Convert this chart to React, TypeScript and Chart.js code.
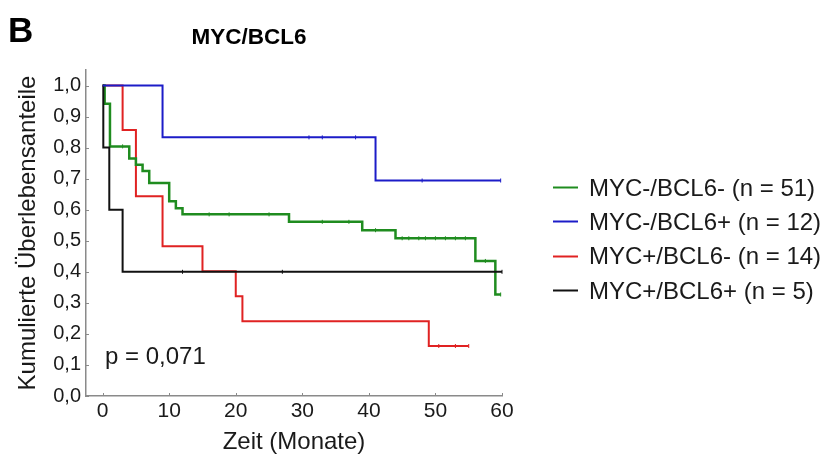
import React, { useEffect, useRef } from 'react';
import { Chart, registerables } from 'chart.js';

Chart.register(...registerables);

// ---- data ----
const X_TICKS = [0, 10, 20, 30, 40, 50, 60];
const Y_TICKS = [0, 0.1, 0.2, 0.3, 0.4, 0.5, 0.6, 0.7, 0.8, 0.9, 1.0];

const PANEL_LABEL = 'B';
const TITLE = 'MYC/BCL6';
const X_TITLE = 'Zeit (Monate)';
const Y_TITLE = 'Kumulierte Überlebensanteile';
const P_TEXT = 'p = 0,071';

const SERIES_LABELS = [
  'MYC-/BCL6- (n = 51)',
  'MYC-/BCL6+ (n = 12)',
  'MYC+/BCL6- (n = 14)',
  'MYC+/BCL6+ (n = 5)',
];
const SERIES_COLORS = ['#1f8c1f', '#1c1cc8', '#e02222', '#111111'];

// MYC-/BCL6-
const GREEN_T = [0, 0.3, 1.1, 4, 5, 6, 7, 10, 11, 12, 28, 39, 44, 56, 59, 59.8];
const GREEN_S = [1, 0.941, 0.804, 0.765, 0.745, 0.725, 0.686, 0.627, 0.605, 0.585, 0.561, 0.534, 0.508, 0.435, 0.327, 0.327];
const GREEN_CENSOR = [3, 16, 19, 25, 33, 37, 41, 45, 46, 47.5, 48.5, 50, 51.5, 53, 54.5, 57.5, 59.8];

// MYC-/BCL6+
const BLUE_T = [0, 9, 41, 59.8];
const BLUE_S = [1, 0.833, 0.694, 0.694];
const BLUE_CENSOR = [31, 33, 38, 48, 59.8];

// MYC+/BCL6-
const RED_T = [0, 3, 5, 9, 15, 20, 21, 49, 55];
const RED_S = [1, 0.857, 0.643, 0.482, 0.402, 0.321, 0.241, 0.161, 0.161];
const RED_CENSOR = [50.5, 53, 55];

// MYC+/BCL6+
const BLACK_T = [0, 0.1, 1, 3, 60];
const BLACK_S = [1, 0.8, 0.6, 0.4, 0.4];
const BLACK_CENSOR = [12, 27, 60];

const FONT = '"Liberation Sans", Arial, Helvetica, sans-serif';
const AXIS_COLOR = '#8a8a8a';
const TEXT_COLOR = '#1a1a1a';

type Pt = { x: number; y: number; c: boolean };

function buildSeries(times: number[], surv: number[], censor: number[]): Pt[] {
  const pts: Pt[] = times.map((t, i) => ({ x: t, y: surv[i], c: false }));
  censor.forEach((ct) => {
    const existing = pts.find((p) => p.x === ct);
    if (existing) {
      existing.c = true;
      return;
    }
    let idx = 0;
    for (let i = 0; i < times.length; i++) if (times[i] <= ct) idx = i;
    pts.push({ x: ct, y: surv[idx], c: true });
  });
  pts.sort((a, b) => a.x - b.x);
  return pts;
}

const textPlugin = {
  id: 'kmTexts',
  afterDraw(chart: any) {
    const ctx = chart.ctx as CanvasRenderingContext2D;
    const xs = chart.scales.x;
    const ys = chart.scales.y;
    ctx.save();
    // tick marks (inward)
    ctx.strokeStyle = AXIS_COLOR;
    ctx.lineWidth = 1;
    X_TICKS.forEach((v) => {
      const px = Math.round(xs.getPixelForValue(v)) + 0.5;
      ctx.beginPath();
      ctx.moveTo(px, ys.bottom);
      ctx.lineTo(px, ys.bottom - 3);
      ctx.stroke();
    });
    Y_TICKS.forEach((v) => {
      const py = Math.round(ys.getPixelForValue(v)) + 0.5;
      ctx.beginPath();
      ctx.moveTo(xs.left, py);
      ctx.lineTo(xs.left + 3, py);
      ctx.stroke();
    });

    ctx.fillStyle = '#000';
    ctx.textAlign = 'left';
    ctx.textBaseline = 'alphabetic';
    ctx.font = `bold 35px ${FONT}`;
    ctx.fillText(PANEL_LABEL, 8, 42);

    ctx.font = `bold 22.5px ${FONT}`;
    ctx.textAlign = 'center';
    ctx.fillText(TITLE, 249, 44);

    ctx.fillStyle = TEXT_COLOR;
    ctx.font = `24px ${FONT}`;
    ctx.textAlign = 'left';
    ctx.fillText(P_TEXT, 105, 364);

    // legend
    SERIES_LABELS.forEach((label, i) => {
      const cy = 187 + i * 34.3;
      ctx.strokeStyle = SERIES_COLORS[i];
      ctx.lineWidth = 2;
      ctx.beginPath();
      ctx.moveTo(553, Math.round(cy) + 0.5);
      ctx.lineTo(578, Math.round(cy) + 0.5);
      ctx.stroke();
      ctx.fillStyle = TEXT_COLOR;
      ctx.fillText(label, 589, cy + 8.6);
    });
    ctx.restore();
  },
};

export default function App() {
  const ref = useRef<HTMLCanvasElement | null>(null);

  useEffect(() => {
    if (!ref.current) return;
    const series = [
      { pts: buildSeries(GREEN_T, GREEN_S, GREEN_CENSOR), w: 2.5, order: 2 },
      { pts: buildSeries(BLUE_T, BLUE_S, BLUE_CENSOR), w: 2, order: 0 },
      { pts: buildSeries(RED_T, RED_S, RED_CENSOR), w: 2, order: 3 },
      { pts: buildSeries(BLACK_T, BLACK_S, BLACK_CENSOR), w: 2, order: 1 },
    ];
    const datasets = series.map((s, i) => ({
      label: SERIES_LABELS[i],
      data: s.pts,
      borderColor: SERIES_COLORS[i],
      backgroundColor: SERIES_COLORS[i],
      borderWidth: s.w,
      stepped: true as const,
      fill: false,
      order: s.order,
      pointStyle: 'line' as const,
      rotation: 90,
      pointRadius: (c: any) => (c.raw && c.raw.c ? 2 : 0),
      pointBorderWidth: 1,
      pointBorderColor: SERIES_COLORS[i],
      pointHoverRadius: 0,
      clip: false as any,
    }));

    const chart = new Chart(ref.current, {
      type: 'line',
      data: { datasets: datasets as any },
      options: {
        responsive: false,
        animation: false,
        parsing: false as any,
        layout: { padding: { left: 0, top: 70, right: 329, bottom: 0 } },
        plugins: {
          legend: { display: false },
          tooltip: { enabled: false },
          title: { display: false },
        },
        scales: {
          x: {
            type: 'linear',
            min: -2.5,
            max: 60,
            afterBuildTicks: (s: any) => {
              s.ticks = X_TICKS.map((v) => ({ value: v }));
            },
            afterFit: (s: any) => {
              s.height = 58;
            },
            grid: { display: false, drawTicks: false },
            border: { display: true, color: AXIS_COLOR, width: 1.5 },
            ticks: {
              color: TEXT_COLOR,
              font: { size: 21, family: FONT },
              padding: 3,
              maxRotation: 0,
              autoSkip: false,
              callback: (v: any) => String(v),
            },
            title: {
              display: true,
              text: X_TITLE,
              color: TEXT_COLOR,
              font: { size: 24, family: FONT, lineHeight: 1 },
              padding: { top: 0, bottom: 0 },
            },
          },
          y: {
            type: 'linear',
            min: 0,
            max: 1.05,
            afterBuildTicks: (s: any) => {
              s.ticks = Y_TICKS.map((v) => ({ value: v }));
            },
            afterFit: (s: any) => {
              s.width = 86;
            },
            grid: { display: false, drawTicks: false },
            border: { display: true, color: AXIS_COLOR, width: 1.5 },
            ticks: {
              color: TEXT_COLOR,
              font: { size: 20, family: FONT },
              padding: 5,
              autoSkip: false,
              callback: (v: any) => Number(v).toFixed(1).replace('.', ','),
            },
            title: {
              display: true,
              text: Y_TITLE,
              color: TEXT_COLOR,
              font: { size: 24, family: FONT, lineHeight: 1 },
              padding: { top: 16, bottom: 0 },
            },
          },
        },
      },
      plugins: [textPlugin],
    });
    return () => chart.destroy();
  }, []);

  return (
    <div style={{ position: 'fixed', left: 0, top: 0, width: 831, height: 454, background: '#fff' }}>
      <canvas ref={ref} width={831} height={454} style={{ width: 831, height: 454 }} />
    </div>
  );
}
